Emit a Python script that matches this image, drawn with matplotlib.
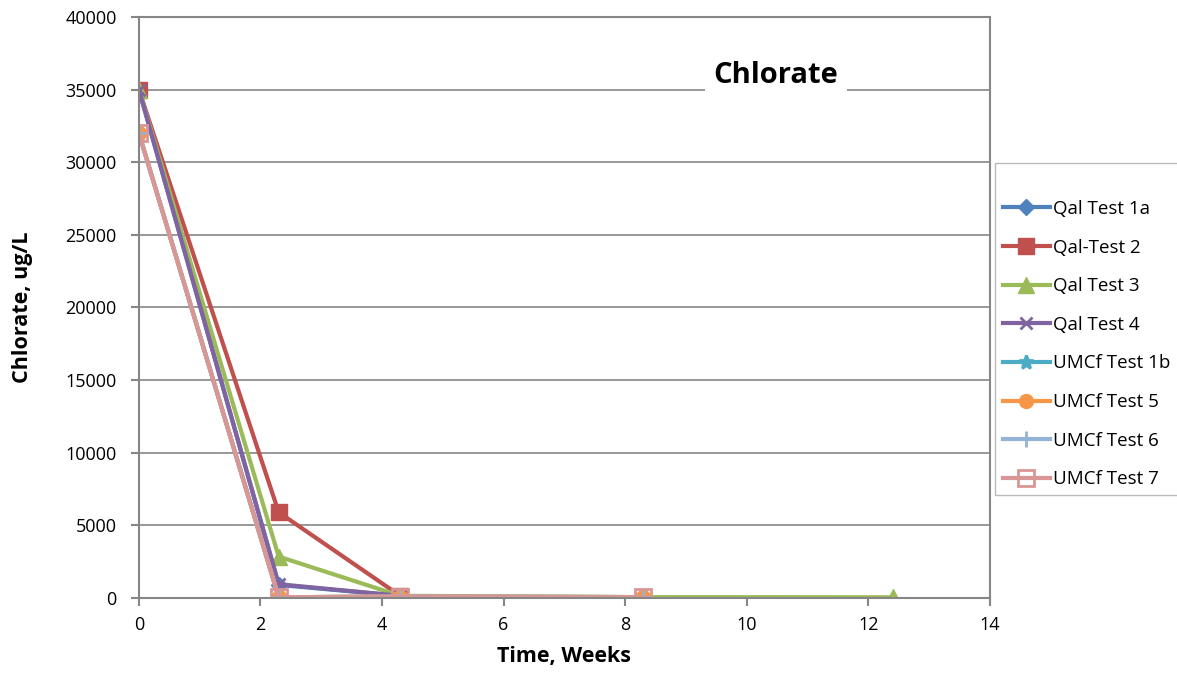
import matplotlib
matplotlib.use("Agg")
import matplotlib.pyplot as plt
from matplotlib.patches import Rectangle

plt.rcParams['font.family'] = ['Open Sans', 'DejaVu Sans']

series_names = ["Qal Test 1a", "Qal-Test 2", "Qal Test 3", "Qal Test 4",
                "UMCf Test 1b", "UMCf Test 5", "UMCf Test 6", "UMCf Test 7"]
weeks_qal_short = [0, 2.3, 4.3]
weeks_qal3 = [0, 2.3, 4.3, 8.3, 12.4]
weeks_umcf = [0, 2.3, 4.3, 8.3]

qal_1a = [35000, 900, 150]
qal_2 = [35000, 5900, 150]
qal_3 = [35000, 2850, 150, 60, 50]
qal_4 = [35000, 950, 150]
umcf_1b = [32000, 50, 100, 60]
umcf_5 = [32000, 50, 100, 60]
umcf_6 = [32000, 50, 100, 60]
umcf_7 = [32000, 50, 100, 60]

xs = [weeks_qal_short, weeks_qal_short, weeks_qal3, weeks_qal_short,
      weeks_umcf, weeks_umcf, weeks_umcf, weeks_umcf]
ys = [qal_1a, qal_2, qal_3, qal_4, umcf_1b, umcf_5, umcf_6, umcf_7]

colors = ["#4F81BD", "#C0504D", "#9BBB59", "#8064A2",
          "#4BACC6", "#F79646", "#95B3D7", "#D99694"]
markers = ["D", "s", "^", "x", "*", "o", "+", "s"]
msizes = [8, 11, 11, 9, 10, 10, 11, 11]

fig = plt.figure(figsize=(11.77, 6.77), dpi=100)
ax = fig.add_axes([0.118, 0.1167, 0.723, 0.8583])

grid_c = "#868686"
for i in range(8):
    kw = dict(color=colors[i], lw=3, marker=markers[i], ms=msizes[i],
              label=series_names[i], solid_joinstyle='miter')
    if i == 7:
        kw.update(mfc='none', mec=colors[i], mew=2)
    elif i in (3, 4, 6):
        kw.update(mec=colors[i], mew=2)
    else:
        kw.update(mec=colors[i])
    ax.plot(xs[i], ys[i], **kw)

ax.set_xlim(0, 14)
ax.set_ylim(0, 40000)
ax.set_xticks(range(0, 15, 2))
ax.set_yticks(range(0, 40001, 5000))
ax.yaxis.grid(True, color=grid_c, lw=1.2)
ax.set_axisbelow(True)
for s in ax.spines.values():
    s.set_color(grid_c)
    s.set_linewidth(1.5)
ax.tick_params(axis='both', color=grid_c, width=1.5, length=6, labelsize=13)
ax.tick_params(axis='x', pad=7)
ax.tick_params(axis='y', pad=10)
ax.set_xlabel("Time, Weeks", fontsize=15.5, fontweight='bold')
ax.set_ylabel("Chlorate, ug/L", fontsize=15.5, fontweight='bold')
ax.xaxis.set_label_coords(0.5, -0.083)
ax.yaxis.set_label_coords(-0.125, 0.5)

ax.text(10.48, 35950, "Chlorate", fontsize=21, fontweight='bold', ha='center', va='center',
        bbox=dict(facecolor='white', edgecolor='none', pad=6))

fig.patches.append(Rectangle((995 / 1177, 1 - 495 / 677), 190 / 1177, 332 / 677,
                             transform=fig.transFigure, facecolor='white',
                             edgecolor='#BBBBBB', lw=1, zorder=0))
leg = fig.legend(*ax.get_legend_handles_labels(), loc='upper left',
                 bbox_to_anchor=(1003 / 1177, 1 - 200 / 677), frameon=False,
                 fontsize=13.5, handlelength=2.5, handletextpad=0.15,
                 labelspacing=1.1, borderpad=0, borderaxespad=0)

fig.savefig("out.png", dpi=100)
